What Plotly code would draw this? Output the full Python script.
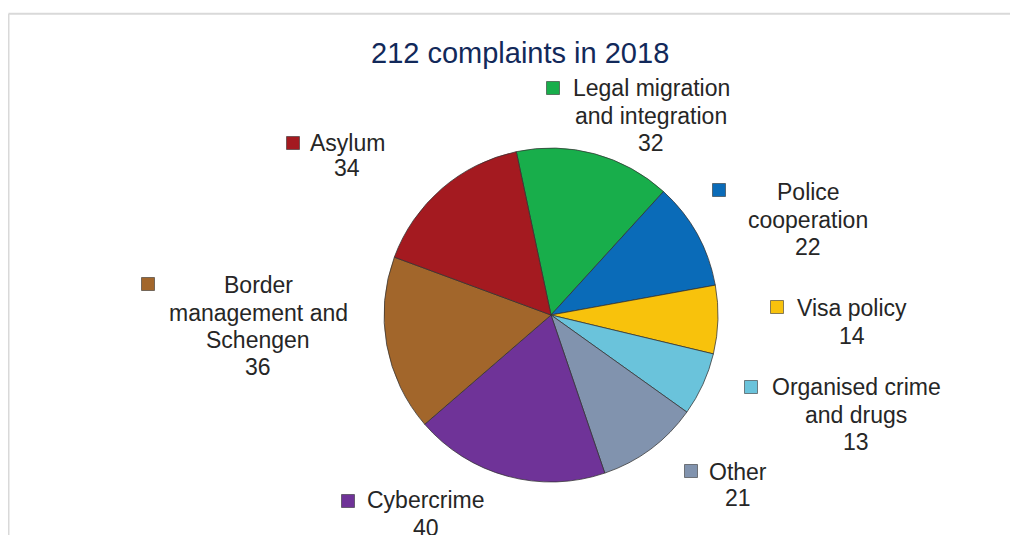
import plotly.graph_objects as go

# ---- data ----
categories = ["Legal migration and integration", "Police cooperation", "Visa policy",
              "Organised crime and drugs", "Other", "Cybercrime",
              "Border management and Schengen", "Asylum"]
label_lines = ["Legal migration<br>and integration", "Police<br>cooperation", "Visa policy",
               "Organised crime<br>and drugs", "Other", "Cybercrime",
               "Border<br>management and<br>Schengen", "Asylum"]
values = [32, 22, 14, 13, 21, 40, 36, 34]
colors = ["#18AE4B", "#0A6BB8", "#F8C20C", "#6AC3DB", "#8193AE", "#6F3398", "#A2662B", "#A41A20"]
title_text = "212 complaints in 2018"

# page offset (browser body margin) and figure size
OFF = 8
W, H = 1010, 527

def px(x):
    return (x - OFF) / W

def py(y):
    return 1 - (y - OFF) / H

# label layout in page pixels: text center x, line center ys, marker center (x, y)
label_pos = [
    (651, [88, 116, 143], (553, 88)),
    (808, [192, 220, 247], (719, 190)),
    (852, [308, 336], (777, 307)),
    (856, [387, 415, 442], (751, 387)),
    (738, [472, 498], (691, 471)),
    (426, [500, 528], (348, 501)),
    (258, [285, 313, 340, 367], (148, 284)),
    (347, [143, 168], (293, 143)),
]

cx, cy, r = 551, 315, 167

fig = go.Figure()
fig.add_trace(go.Pie(
    labels=categories,
    values=values,
    sort=False,
    direction="clockwise",
    rotation=-12,
    marker=dict(colors=colors, line=dict(color="rgba(50,50,50,0.75)", width=1)),
    textinfo="none",
    hoverinfo="label+value",
    showlegend=False,
    domain=dict(x=[px(cx - r), px(cx + r)], y=[py(cy + r), py(cy - r)]),
))

FONT = "Liberation Sans, Arial, sans-serif"
annotations = [dict(
    text=title_text, x=px(520), y=py(53), xref="paper", yref="paper",
    xanchor="center", yanchor="middle", showarrow=False,
    font=dict(family=FONT, size=29, color="#12295A"),
)]
shapes = []
for lab, val, col, (tx, ys, (mx, my)) in zip(label_lines, values, colors, label_pos):
    lines = lab.split("<br>") + [str(val)]
    for line, ly in zip(lines, ys):
        annotations.append(dict(
            text=line, x=px(tx), y=py(ly), xref="paper", yref="paper",
            xanchor="center", yanchor="middle", align="center", showarrow=False,
            font=dict(family=FONT, size=23, color="#262626"),
        ))
    shapes.append(dict(
        type="rect", xref="paper", yref="paper",
        x0=px(mx - 6.5), x1=px(mx + 6.5), y0=py(my + 6.5), y1=py(my - 6.5),
        fillcolor=col, line=dict(color="rgba(40,40,40,0.55)", width=1),
    ))

# chart frame (top and left edges visible)
shapes.append(dict(type="line", xref="paper", yref="paper",
                   x0=px(8.5), x1=px(1040), y0=py(13.8), y1=py(13.8),
                   line=dict(color="#D9D9D9", width=2)))
shapes.append(dict(type="line", xref="paper", yref="paper",
                   x0=px(8.5), x1=px(8.5), y0=py(13.8), y1=py(560),
                   line=dict(color="#D9D9D9", width=2)))

fig.update_layout(
    width=W, height=H, autosize=False,
    margin=dict(l=0, r=0, t=0, b=0),
    paper_bgcolor="white", plot_bgcolor="white",
    annotations=annotations, shapes=shapes,
)

fig.write_html("out.html")
